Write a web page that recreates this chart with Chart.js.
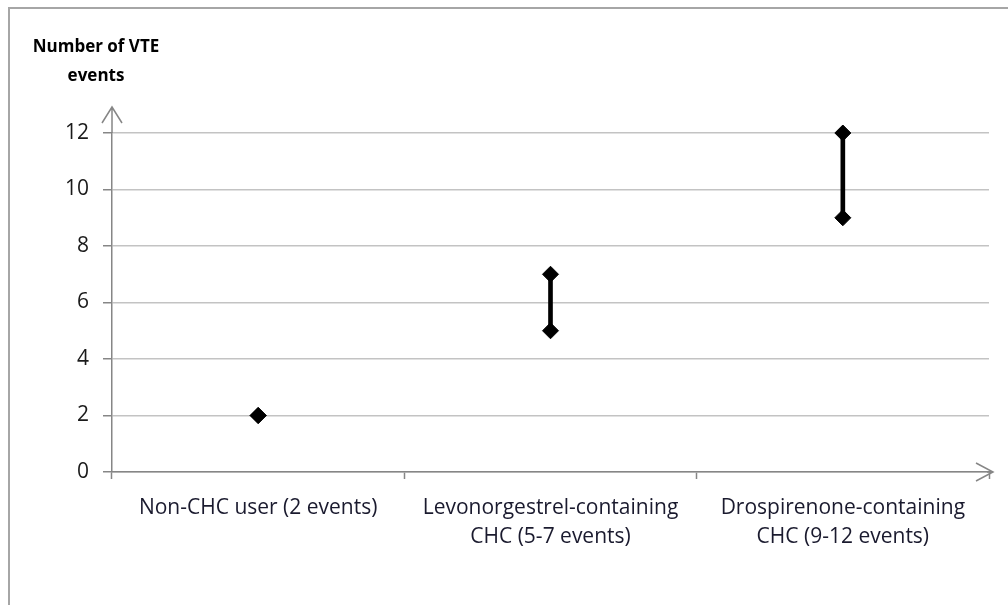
<!DOCTYPE html>
<html lang="en">
<head>
    <meta charset="UTF-8">
    <title>Number of VTE events</title>
    <style>
        body {
            margin: 0;
            background-color: white;
            overflow: hidden;
        }
        canvas {
            display: block;
        }
    </style>
</head>
<body>
    <canvas id="vteChart" width="1008" height="605"></canvas>

    <script src="https://cdn.jsdelivr.net/npm/chart.js"></script>
    <script>
        // values
        const categories = [
            ['Non-CHC user (2 events)'],
            ['Levonorgestrel-containing', 'CHC (5-7 events)'],
            ['Drospirenone-containing', 'CHC (9-12 events)']
        ];
        const lowEvents = [2, 5, 9];
        const highEvents = [2, 7, 12];
        const yTitle = ['Number of VTE', 'events'];

        const axisGray = '#868686';
        const gridGray = '#c3c3c3';
        const labelFont = { family: 'Open Sans', size: 21, lineHeight: 1.35 };

        // frame, y title and the arrow heads at the axis ends
        const decorations = {
            id: 'decorations',
            beforeDraw(chart) {
                const ctx = chart.ctx;
                ctx.save();
                ctx.strokeStyle = '#a6a6a6';
                ctx.lineWidth = 2;
                ctx.strokeRect(9, 8, 1100, 700);
                ctx.restore();
            },
            afterDraw(chart) {
                const ctx = chart.ctx;
                const area = chart.chartArea;
                ctx.save();
                ctx.strokeStyle = axisGray;
                ctx.lineWidth = 1.5;

                // y axis arrow
                ctx.beginPath();
                ctx.moveTo(area.left, area.top);
                ctx.lineTo(area.left, area.top - 26);
                ctx.moveTo(area.left - 10, area.top - 10);
                ctx.lineTo(area.left, area.top - 26);
                ctx.lineTo(area.left + 10, area.top - 10);
                ctx.stroke();

                // x axis arrow
                ctx.beginPath();
                ctx.moveTo(area.right - 2, area.bottom);
                ctx.lineTo(area.right + 4, area.bottom);
                ctx.moveTo(area.right - 13, area.bottom - 9);
                ctx.lineTo(area.right + 4, area.bottom);
                ctx.lineTo(area.right - 13, area.bottom + 9);
                ctx.stroke();

                // y axis title
                ctx.fillStyle = '#000';
                ctx.font = 'bold 17px "Open Sans"';
                ctx.textAlign = 'center';
                ctx.fillText(yTitle[0], 96, 52);
                ctx.fillText(yTitle[1], 96, 81);
                ctx.restore();
            }
        };

        const ctx = document.getElementById('vteChart').getContext('2d');

        new Chart(ctx, {
            type: 'bar',
            data: {
                labels: categories,
                datasets: [
                    {
                        label: 'Range',
                        data: lowEvents.map((low, i) => [low, highEvents[i]]),
                        backgroundColor: '#000',
                        barThickness: 4,
                        clip: false,
                        order: 2
                    },
                    {
                        type: 'line',
                        label: 'Low',
                        data: lowEvents,
                        showLine: false,
                        clip: false,
                        pointStyle: 'rectRot',
                        pointRadius: 8,
                        pointHoverRadius: 8,
                        pointBackgroundColor: '#000',
                        pointBorderColor: '#000',
                        pointBorderWidth: 1,
                        order: 1
                    },
                    {
                        type: 'line',
                        label: 'High',
                        data: highEvents,
                        showLine: false,
                        clip: false,
                        pointStyle: 'rectRot',
                        pointRadius: 8,
                        pointHoverRadius: 8,
                        pointBackgroundColor: '#000',
                        pointBorderColor: '#000',
                        pointBorderWidth: 1,
                        order: 1
                    }
                ]
            },
            options: {
                responsive: false,
                animation: false,
                layout: {
                    padding: { top: 133, right: 19, left: 0, bottom: 0 }
                },
                plugins: {
                    legend: { display: false },
                    tooltip: { enabled: false }
                },
                scales: {
                    x: {
                        offset: true,
                        grid: {
                            offset: true,
                            drawOnChartArea: false,
                            tickLength: 7,
                            tickColor: axisGray,
                            tickWidth: 1.5
                        },
                        border: { color: axisGray, width: 1.5 },
                        ticks: {
                            color: '#1a1a2e',
                            font: labelFont,
                            padding: 15,
                            maxRotation: 0
                        },
                        afterFit(scale) {
                            scale.height = 133;
                        }
                    },
                    y: {
                        min: 0,
                        max: 12,
                        grid: {
                            color: gridGray,
                            tickColor: axisGray,
                            tickLength: 9,
                            lineWidth: 1.5
                        },
                        border: { color: axisGray, width: 1.5 },
                        ticks: {
                            stepSize: 2,
                            color: '#1a1a1a',
                            font: labelFont,
                            padding: 14
                        },
                        afterFit(scale) {
                            scale.width = 112;
                        }
                    }
                }
            },
            plugins: [decorations]
        });
    </script>
</body>
</html>
